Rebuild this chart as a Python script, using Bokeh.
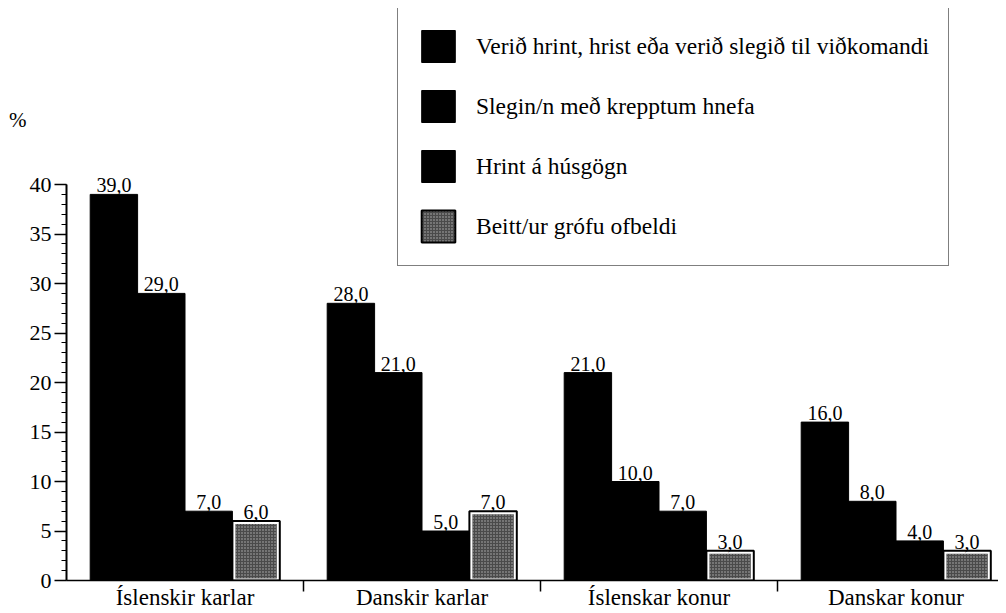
from bokeh.plotting import figure
from bokeh.models import (Range1d, LinearAxis, FixedTicker, SingleIntervalTicker,
                          Legend, LegendItem)
from bokeh.core.properties import value
from bokeh.embed import file_html
from bokeh.resources import INLINE

categories = ["Íslenskir karlar", "Danskir karlar", "Íslenskar konur", "Danskar konur"]
series = ["Verið hrint, hrist eða verið slegið til viðkomandi",
          "Slegin/n með krepptum hnefa",
          "Hrint á húsgögn",
          "Beitt/ur grófu ofbeldi"]
pushed = [39.0, 28.0, 21.0, 16.0]
fist = [29.0, 21.0, 10.0, 8.0]
furniture = [7.0, 5.0, 7.0, 4.0]
severe = [6.0, 7.0, 3.0, 3.0]
y_ticks_interval = 5
y_max_axis = 40
y_unit_label = "%"

FONT = "Liberation Serif"
values_by_series = [pushed, fist, furniture, severe]

FRAME_W = 932
FRAME_H = 572
PX_PER_GROUP = 237
PX_PER_UNIT = 9.9
p = figure(frame_width=FRAME_W, frame_height=FRAME_H,
           x_range=Range1d(0, FRAME_W / PX_PER_GROUP), y_range=Range1d(0, FRAME_H / PX_PER_UNIT),
           output_backend="svg", toolbar_location=None,
           x_axis_type=None, y_axis_type=None,
           min_border_left=66, min_border_right=0, min_border_top=8, min_border_bottom=0)
p.outline_line_color = None
p.xgrid.visible = False
p.ygrid.visible = False

bar_w = 0.2
legend_renderers = []
for j, vals in enumerate(values_by_series):
    xs = [i + 0.2 + bar_w * j for i in range(len(categories))]
    if j < 3:
        r = p.vbar(x=xs, top=vals, width=bar_w, bottom=0,
                   fill_color="black", line_color="black", line_width=1)
        legend_renderers.append([r])
    else:
        inner_w = bar_w - 6 / PX_PER_GROUP
        inner_tops = [v - 3 / PX_PER_UNIT for v in vals]
        r_in = p.vbar(x=xs, top=inner_tops, width=inner_w, bottom=2 / PX_PER_UNIT,
                      fill_color="#4a4a4a", line_color=None,
                      hatch_pattern="dot", hatch_color="#c8c8c8", hatch_scale=3,
                      hatch_weight=1, hatch_alpha=0.85)
        r_out = p.vbar(x=xs, top=vals, width=bar_w, bottom=0,
                       fill_color=None, line_color="black", line_width=2)
        legend_renderers.append([r_in, r_out])
    labels = [f"{v:.1f}".replace(".", ",") for v in vals]
    p.text(x=xs, y=vals, text=labels, text_align="center", text_baseline="bottom",
           y_offset=-2, text_font=value(FONT), text_font_size="20px", text_color="black")

# y axis
yaxis = LinearAxis(ticker=SingleIntervalTicker(interval=y_ticks_interval, num_minor_ticks=5),
                   bounds=(0, y_max_axis))
yaxis.major_tick_out = 12
yaxis.major_tick_in = 0
yaxis.minor_tick_out = 5
yaxis.minor_tick_in = 0
yaxis.axis_line_width = 2
yaxis.major_tick_line_width = 1.5
yaxis.minor_tick_line_width = 1.2
yaxis.major_label_text_font = FONT
yaxis.major_label_text_font_size = "22px"
yaxis.major_label_text_color = "black"
yaxis.major_label_standoff = 3
p.add_layout(yaxis, "left")

# unit label "%" as an outer, line-less axis
unit_axis = LinearAxis(ticker=FixedTicker(ticks=[46.5]))
unit_axis.major_label_overrides = {46.5: y_unit_label}
unit_axis.axis_line_color = None
unit_axis.major_tick_line_color = None
unit_axis.minor_tick_line_color = None
unit_axis.major_tick_out = 0
unit_axis.major_label_standoff = 0
unit_axis.major_label_text_font = FONT
unit_axis.major_label_text_font_size = "21px"
unit_axis.major_label_text_color = "black"
p.add_layout(unit_axis, "left")

# x axis with separators between groups
n = len(categories)
xsep = LinearAxis(ticker=FixedTicker(ticks=list(range(1, n))))
xsep.major_label_overrides = {k: "" for k in range(1, n)}
xsep.major_label_text_font_size = "1px"
xsep.major_label_standoff = 0
xsep.major_tick_out = 11
xsep.major_tick_in = 0
xsep.minor_tick_out = 0
xsep.axis_line_width = 1.5
xsep.major_tick_line_width = 1.5
p.add_layout(xsep, "below")

# category labels
xlab = LinearAxis(ticker=FixedTicker(ticks=[i + 0.5 for i in range(n)]))
xlab.major_label_overrides = {i + 0.5: c for i, c in enumerate(categories)}
xlab.axis_line_color = None
xlab.major_tick_line_color = None
xlab.minor_tick_line_color = None
xlab.major_tick_out = 0
xlab.major_label_standoff = -7
xlab.major_label_text_font = FONT
xlab.major_label_text_font_size = "23px"
xlab.major_label_text_color = "black"
p.add_layout(xlab, "below")

legend = Legend(items=[LegendItem(label=s, renderers=rs) for s, rs in zip(series, legend_renderers)],
                location=(331, 314), glyph_width=42, glyph_height=40, spacing=20,
                padding=19, margin=0, label_standoff=17,
                label_text_font_size="23.5px", label_text_color="black",
                border_line_color="black", border_line_width=1.8,
                background_fill_color="white", background_fill_alpha=1)
legend.label_text_font = FONT
p.add_layout(legend, "center")

open("out.html", "w").write(file_html(p, INLINE))
